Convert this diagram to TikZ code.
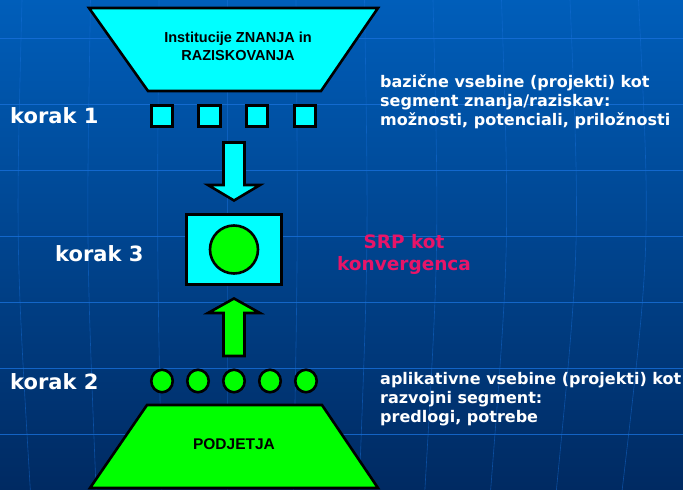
\documentclass[tikz,border=0pt]{standalone}
\usepackage{fontspec}
\setmainfont{DejaVu Sans}
\newfontfamily\arialfont{Liberation Sans}
\usetikzlibrary{shapes.geometric}
\definecolor{bgtop}{RGB}{0,94,186}
\definecolor{bgbot}{RGB}{0,42,98}
\definecolor{gridblue}{RGB}{24,112,218}
\definecolor{aqua}{RGB}{0,255,255}
\definecolor{lime}{RGB}{0,255,0}
\definecolor{srpred}{RGB}{232,20,104}
\tikzset{
  lik/.style={draw=black, line width=2.6pt, line join=miter},
  modro/.style={lik, fill=aqua},
  zeleno/.style={lik, fill=lime},
  kvadrat/.style={modro, minimum size=21.5pt, inner sep=0pt},
  krog/.style={zeleno, ellipse, minimum width=21.5pt, minimum height=22.5pt, inner sep=0pt},
  korak/.style={text=white, font=\fontsize{21}{24}\selectfont\bfseries, anchor=base west, inner sep=0pt},
  opis/.style={text=white, font=\fontsize{16}{19}\selectfont\bfseries, align=left, anchor=north west, inner sep=0pt},
  naslov/.style={font=\arialfont\fontsize{14.5}{18}\selectfont\bfseries, align=center, inner sep=0pt},
  mreza/.style={draw=gridblue, line width=0.9pt, draw opacity=0.8},
}
\begin{document}
\begin{tikzpicture}[x=1pt,y=-1pt]

\useasboundingbox (0,0) rectangle (683,490);
\shade[top color=bgtop, bottom color=bgbot] (0,0) rectangle (683,490);
\foreach \y in {38,104,...,434}
  \draw[mreza] (0,\y) -- (683,\y);
\foreach \x in {22,90.5,...,640}
  \draw[mreza, line width=0.6pt, draw opacity=0.5] (\x,0) .. controls ({\x+(\x-230)*0.03},245) .. ({230+(\x-230)*0.96},490);

\draw[modro] (89,8) -- (378,8) -- (321,91) -- (148,91) -- cycle;
\node[naslov, anchor=north] (institucije) at (238,32) {Institucije ZNANJA in\\RAZISKOVANJA};
\draw[zeleno] (147,405) -- (322,405) -- (378,488) -- (90,488) -- cycle;
\node[naslov, anchor=base, font=\arialfont\fontsize{15.5}{18}\selectfont\bfseries] (podjetja) at (234,449) {PODJETJA};

\foreach \i/\x in {1/162,2/209.5,3/257,4/305}
  \node[kvadrat] (kvadrat\i) at (\x,116) {};
\foreach \i/\x in {1/162,2/198,3/234,4/270,5/306}
  \node[krog] (krog\i) at (\x,381) {};

\draw[modro] (223.5,142.5) -- (244.5,142.5) -- (244.5,185) -- (260,185) -- (234,200.5) -- (208,185) -- (223.5,185) -- cycle;
\draw[zeleno] (223.5,356) -- (244.5,356) -- (244.5,313) -- (260,313) -- (234,298.5) -- (208,313) -- (223.5,313) -- cycle;
\node[modro, minimum width=95.5pt, minimum height=70.5pt, inner sep=0pt] (srp) at (234,249.5) {};
\node[zeleno, circle, minimum size=48pt, inner sep=0pt] (jedro) at (srp.center) {};

\node[korak] (korak1) at (10,123) {korak 1};
\node[korak] (korak3) at (55,261) {korak 3};
\node[korak] (korak2) at (10,389) {korak 2};

\node[opis] (bazicne) at (380,75) {bazične vsebine (projekti) kot\\segment znanja/raziskav:\\možnosti, potenciali, priložnosti};
\node[text=srpred, font=\fontsize{18.5}{22}\selectfont\bfseries, align=center, anchor=north, inner sep=0pt] (konvergenca) at (404,234) {SRP kot\\konvergenca};
\node[opis] (aplikativne) at (380,372) {aplikativne vsebine (projekti) kot\\razvojni segment:\\predlogi, potrebe};

\end{tikzpicture}
\end{document}
